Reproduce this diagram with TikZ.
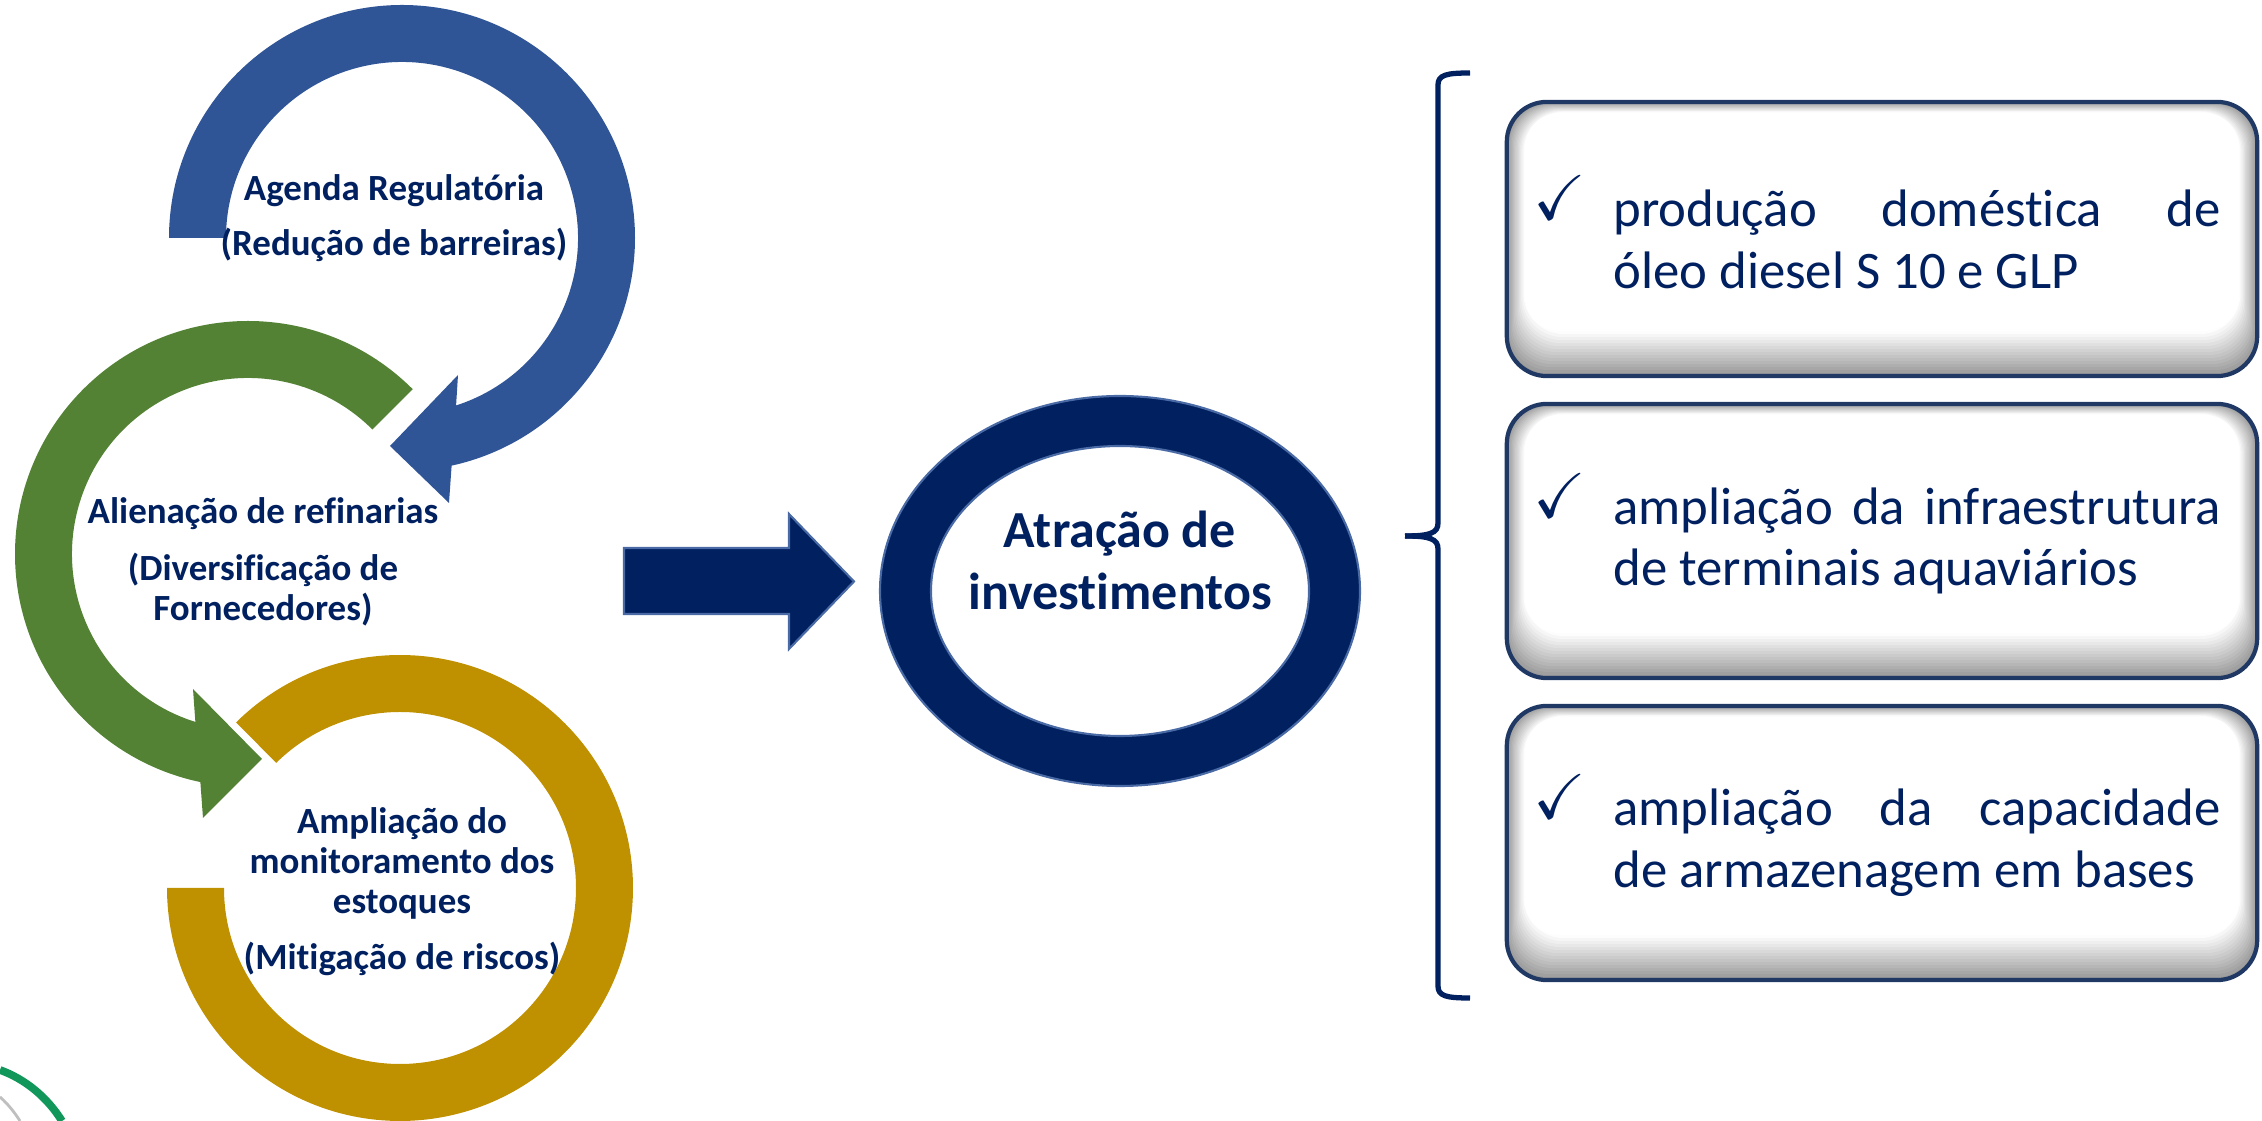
\documentclass[tikz,border=0pt]{standalone}
\usepackage{amssymb}
\usepackage{fontspec}
\setmainfont{Carlito}[Ligatures=NoCommon]
\usepackage{tikz}
\usetikzlibrary{shapes,arrows, positioning}

\definecolor{navy}{HTML}{002060}
\definecolor{arcblue}{HTML}{2F5597}
\definecolor{arcgreen}{HTML}{548235}
\definecolor{arcgold}{HTML}{BF9000}
\definecolor{rimblue}{HTML}{4A6AA5}
\definecolor{boxline}{HTML}{1F3864}
\definecolor{logogreen}{HTML}{12975A}

% soft bevel inside the list boxes
\newcommand{\boxshade}{%
  \fill[black!40] (path picture bounding box.south west) rectangle (path picture bounding box.north east);
  \foreach \k in {1,...,14}{
    \pgfmathsetmacro\shadeval{40-2.8*\k}
    \fill[black!\shadeval, rounded corners=0.4cm] ([xshift=\k*0.012cm, yshift=\k*0.03cm]path picture bounding box.south west) rectangle ([xshift=-\k*0.012cm, yshift=-\k*0.007cm]path picture bounding box.north east);
  }
  \fill[white, rounded corners=0.35cm] ([xshift=0.18cm, yshift=0.45cm]path picture bounding box.south west) rectangle ([xshift=-0.18cm, yshift=-0.11cm]path picture bounding box.north east);
}

\tikzstyle{arctext} = [text=navy, font=\bfseries\fontsize{10.5}{11.4}\selectfont, align=center, inner sep=0pt]
\tikzstyle{ringtext} = [text=navy, font=\bfseries\fontsize{14.8}{17.6}\selectfont, align=center, inner sep=0pt]
\tikzstyle{listbox} = [rectangle, draw=boxline, line width=1.2pt, rounded corners=0.4cm, minimum width=7.5cm, minimum height=2.74cm, path picture={\boxshade}]
\tikzstyle{listtext} = [text=navy, font=\fontsize{15}{17.6}\selectfont, text width=6.07cm, align=justify, inner sep=0pt]
\tikzstyle{bigarrow} = [fill=navy, draw=rimblue, line width=0.6pt]
\tikzstyle{rim} = [draw=rimblue, line width=0.6pt]
\tikzstyle{brace} = [draw=navy, line width=1.5pt]
\newcommand{\tick}{\llap{\smash{\raisebox{0.07cm}{\fontsize{18}{18}\selectfont$\checkmark$}}\hspace{0.27cm}}}

\begin{document}
\begin{tikzpicture}[x=0.01cm, y=0.01cm]
	\useasboundingbox (0,0) rectangle (2262,1121);

	% the three cycle arrows
	\coordinate (cblue) at (402,883);
	\coordinate (cgreen) at (248,567);
	\coordinate (cgold) at (400,233);
	\fill[arcblue] ([shift={(cblue)}]180:233) arc[start angle=180, end angle=-77.7, radius=233]
		-- (449,618) -- (390,675) -- (458,746)
		-- ([shift={(cblue)}]-72.1:176) arc[start angle=-72.1, end angle=180, radius=176] -- cycle;
	\fill[arcgreen] ([shift={(cgreen)}]45:233) arc[start angle=45, end angle=258.2, radius=233]
		-- (203,303) -- (262,362) -- (193,432)
		-- ([shift={(cgreen)}]252.6:176) arc[start angle=252.6, end angle=45, radius=176] -- cycle;
	\fill[arcgold] ([shift={(cgold)}]134.7:233) arc[start angle=134.7, end angle=-180, radius=233]
		-- ([shift={(cgold)}]180:176) arc[start angle=-180, end angle=134.7, radius=176] -- cycle;

	\node [arctext] (agenda) at (394,903) {Agenda Regulatória\\[0.15cm](Redução de barreiras)};
	\node [arctext] (alien) at (263,559) {Alienação de refinarias\\[0.17cm](Diversificação de\\Fornecedores)};
	\node [arctext] (ampl) at (402,229) {Ampliação do\\monitoramento dos\\estoques\\[0.16cm](Mitigação de riscos)};

	% arrow and ring
	\coordinate (tail) at (624,540);
	\path [bigarrow] (tail) ++(0,33) -- ++(165,0) -- ++(0,34) -- (854,539.5) -- (789,472) -- ++(0,35) -- ++(-165,0) -- cycle;
	\coordinate (cring) at (1120,530);
	\fill[navy, even odd rule] (cring) ellipse [x radius=240, y radius=195] (cring) ellipse [x radius=189, y radius=145];
	\path [rim] (cring) ellipse [x radius=240, y radius=195];
	\path [rim] (cring) ellipse [x radius=189, y radius=145];
	\node [ringtext] (atr) at (1120,561) {Atração de\\investimentos};

	% brace
	\path [brace] (1470,1048) .. controls (1446,1048) and (1438,1046) .. (1438,1036) -- (1438,598) .. controls (1438,588) and (1430,585) .. (1405,585);
	\path [brace] (1470,123) .. controls (1446,123) and (1438,125) .. (1438,135) -- (1438,572) .. controls (1438,582) and (1430,585) .. (1405,585);

	% list
	\node [listbox] (box1) at (1882,882) {};
	\node [listbox] (box2) at (1882,580) {};
	\node [listbox] (box3) at (1882,278) {};
	\node [listtext, right=1.08cm of box1.west] (item1) {\tick produção doméstica de\linebreak óleo diesel S 10 e GLP};
	\node [listtext, right=1.08cm of box2.west] (item2) {\tick ampliação da infraestrutura\linebreak de terminais aquaviários};
	\node [listtext, right=1.08cm of box3.west] (item3) {\tick ampliação da capacidade\linebreak de armazenagem em bases};

	% logo corner
	\path [draw=logogreen, line width=2.2pt] (0,51) .. controls (25,42) and (47,24) .. (62,0);
	\path [draw=black!25, line width=0.8pt] (0,24) .. controls (8,17) and (15,8) .. (20,0);
\end{tikzpicture}
\end{document}
